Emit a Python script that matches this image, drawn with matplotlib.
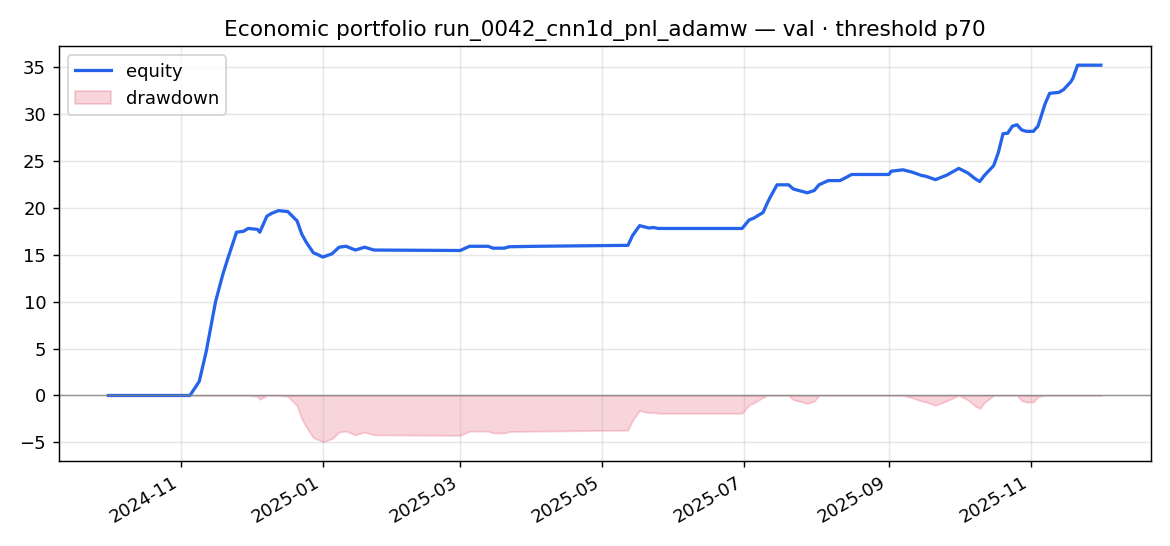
import numpy as np
import pandas as pd
import matplotlib
matplotlib.use("Agg")
import matplotlib.pyplot as plt

# equity curve
dates = [
    "2024-10-01", "2024-11-05", "2024-11-09", "2024-11-12", "2024-11-16", "2024-11-19",
    "2024-11-21", "2024-11-25", "2024-11-28", "2024-11-30", "2024-12-04", "2024-12-05",
    "2024-12-08", "2024-12-10", "2024-12-13", "2024-12-17", "2024-12-21", "2024-12-23",
    "2024-12-25", "2024-12-28", "2024-12-30", "2025-01-01", "2025-01-05", "2025-01-08",
    "2025-01-11", "2025-01-15", "2025-01-19", "2025-01-23", "2025-03-01", "2025-03-05",
    "2025-03-13", "2025-03-15", "2025-03-20", "2025-03-22", "2025-04-03", "2025-05-12",
    "2025-05-14", "2025-05-17", "2025-05-21", "2025-05-23", "2025-05-25", "2025-06-30",
    "2025-07-03", "2025-07-05", "2025-07-09", "2025-07-11", "2025-07-12", "2025-07-15",
    "2025-07-20", "2025-07-22", "2025-07-28", "2025-07-31", "2025-08-02", "2025-08-06",
    "2025-08-11", "2025-08-13", "2025-08-16", "2025-09-01", "2025-09-02", "2025-09-07",
    "2025-09-11", "2025-09-15", "2025-09-17", "2025-09-21", "2025-09-26", "2025-10-01",
    "2025-10-05", "2025-10-08", "2025-10-10", "2025-10-12", "2025-10-16", "2025-10-18",
    "2025-10-20", "2025-10-22", "2025-10-24", "2025-10-26", "2025-10-28", "2025-10-30",
    "2025-11-02", "2025-11-04", "2025-11-07", "2025-11-09", "2025-11-13", "2025-11-15",
    "2025-11-18", "2025-11-19", "2025-11-21", "2025-12-01",
]
equity = [
    0.0, 0.0, 1.5, 4.7, 10.0, 12.8,
    14.4, 17.4, 17.5, 17.8, 17.7, 17.4,
    19.1, 19.4, 19.7, 19.6, 18.6, 17.2,
    16.3, 15.2, 15.0, 14.75, 15.1, 15.8,
    15.9, 15.5, 15.8, 15.5, 15.45, 15.9,
    15.9, 15.7, 15.7, 15.85, 15.9, 16.0,
    17.05, 18.1, 17.85, 17.9, 17.8, 17.8,
    18.7, 18.9, 19.5, 20.6, 21.1, 22.45,
    22.45, 22.0, 21.6, 21.85, 22.45, 22.9,
    22.9, 23.15, 23.55, 23.55, 23.9, 24.05,
    23.8, 23.45, 23.35, 23.0, 23.5, 24.2,
    23.7, 23.1, 22.8, 23.45, 24.5, 25.9,
    27.9, 27.95, 28.7, 28.85, 28.3, 28.15,
    28.15, 28.7, 31.05, 32.2, 32.3, 32.6,
    33.4, 33.8, 35.2, 35.2,
]

x = pd.to_datetime(dates)
eq = np.array(equity)
dd = eq - np.maximum.accumulate(eq)

fig, ax = plt.subplots(figsize=(9, 4.2), dpi=130)
ax.plot(x, eq, color="#2563eb", lw=1.8, label="equity")
ax.fill_between(x, dd, 0, color="crimson", alpha=0.18, label="drawdown")
ax.axhline(0, color="grey", lw=0.8, alpha=0.8)
ax.grid(alpha=0.3)
ax.set_title("Economic portfolio run_0042_cnn1d_pnl_adamw \u2014 val \u00b7 threshold p70")
ax.legend(loc="upper left")
fig.autofmt_xdate()
fig.tight_layout()
fig.savefig("out.png")
